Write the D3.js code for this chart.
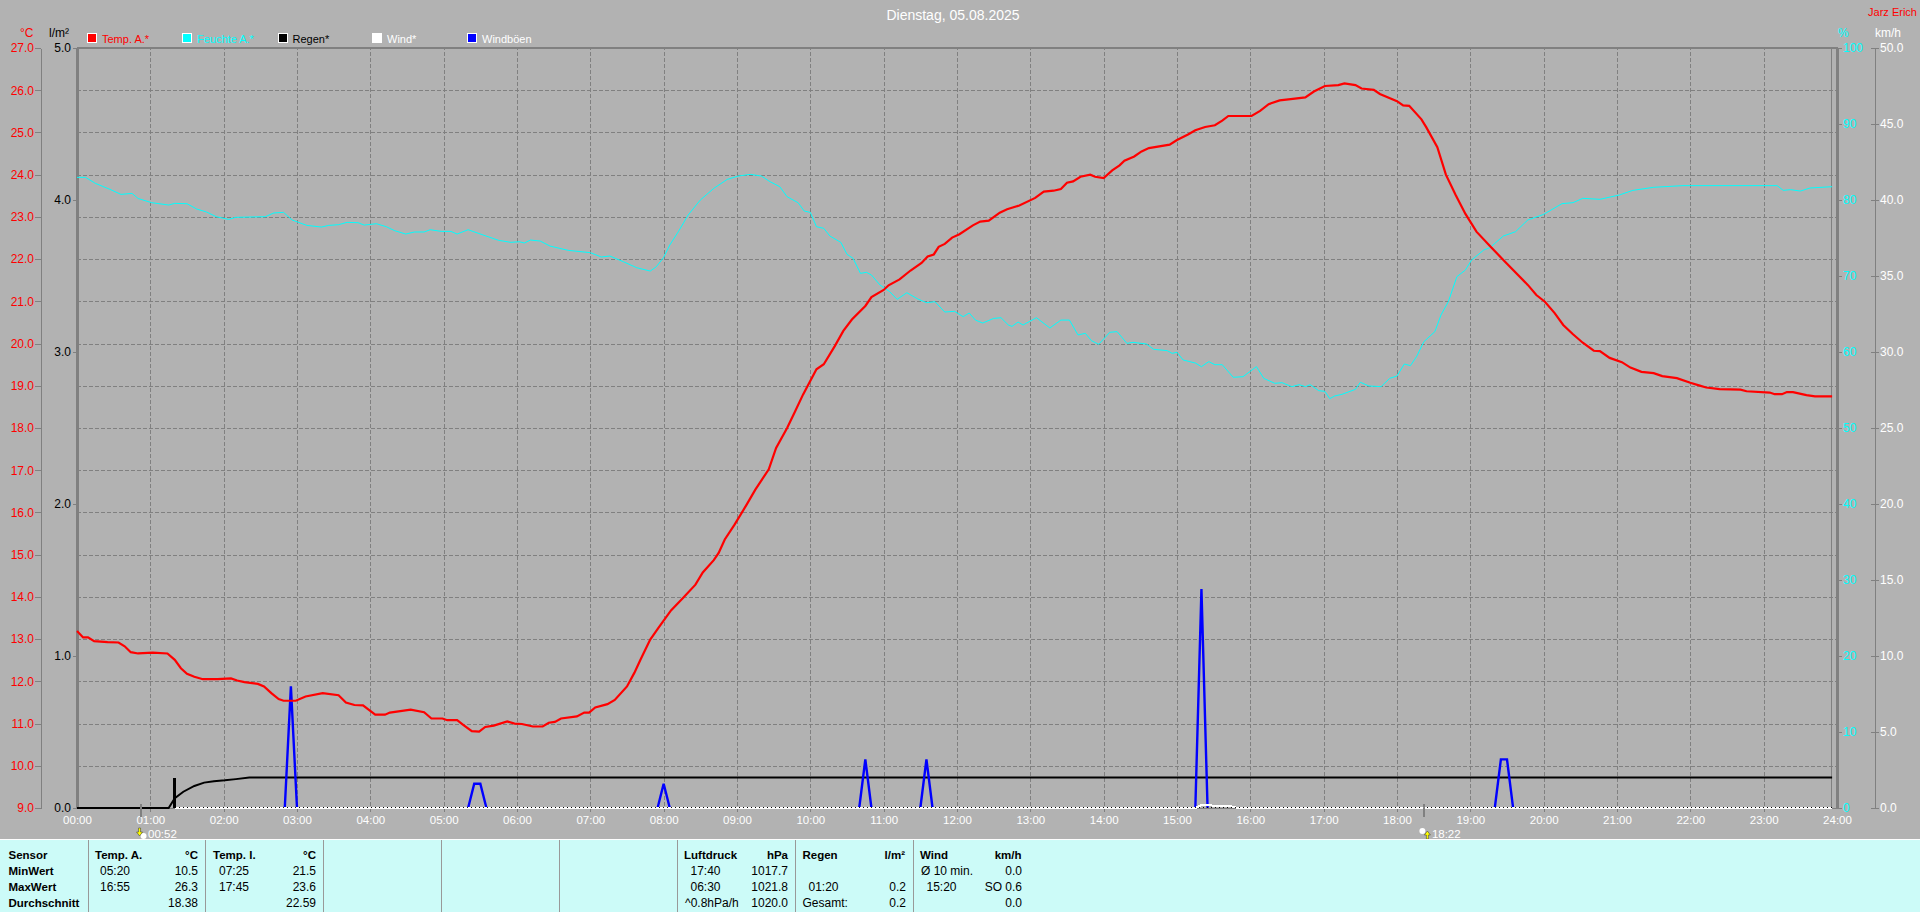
<!DOCTYPE html>
<html>
<head>
<meta charset="utf-8">
<script src="https://cdn.jsdelivr.net/npm/d3@7"></script>
<style>
html,body{margin:0;padding:0;background:#b2b2b2;overflow:hidden}
svg{display:block}
text{font-family:"Liberation Sans",Arial,sans-serif;font-size:11px}
.crisp{shape-rendering:crispEdges}
</style>
</head>
<body>
<svg id="c" width="1920" height="912"></svg>
<script>
// ---- data (time in minutes since midnight, value in the series' unit) ----
const chartTitle = "Dienstag, 05.08.2025";
const author = "Jarz Erich";
const legendLabels = ["Temp. A.*","Feuchte A.*","Regen*","Wind*","Windböen"];
const legendColors = ["#ff0000","#00ffff","#000000","#ffffff","#0000ff"];
const legendTextColors = ["#ff0000","#00ffff","#000000","#ffffff","#ffffff"];
const hourLabels = ["00:00","01:00","02:00","03:00","04:00","05:00","06:00","07:00","08:00","09:00","10:00","11:00","12:00","13:00","14:00","15:00","16:00","17:00","18:00","19:00","20:00","21:00","22:00","23:00","24:00"];
const tempTicks = [9,10,11,12,13,14,15,16,17,18,19,20,21,22,23,24,25,26,27];
const rainTicks = [0,1,2,3,4,5];
const humTicks = [0,10,20,30,40,50,60,70,80,90,100];
const windTicks = [0,5,10,15,20,25,30,35,40,45,50];

const temperature = [[0,13.19],[5,13.04],[9,13.04],[14,12.95],[25,12.93],[34,12.92],[39,12.83],[44,12.69],[50,12.66],[62,12.68],[74,12.66],[80,12.51],[85,12.31],[90,12.18],[96,12.11],[103,12.05],[115,12.05],[126,12.07],[131,12.02],[137,11.98],[148,11.94],[153,11.88],[159,11.72],[165,11.58],[169,11.54],[179,11.54],[187,11.64],[201,11.72],[214,11.67],[220,11.5],[227,11.44],[234,11.43],[244,11.21],[252,11.21],[256,11.26],[273,11.33],[284,11.27],[290,11.12],[299,11.12],[303,11.08],[311,11.08],[316,10.97],[323,10.82],[329,10.81],[334,10.92],[341,10.95],[352,11.05],[358,11],[364,10.99],[373,10.93],[381,10.93],[386,11.02],[391,11.04],[396,11.12],[409,11.17],[415,11.26],[419,11.26],[424,11.38],[434,11.46],[440,11.56],[450,11.88],[456,12.2],[461,12.51],[469,12.99],[476,13.28],[486,13.68],[496,13.98],[506,14.29],[512,14.58],[521,14.87],[525,15.04],[530,15.36],[538,15.71],[548,16.19],[555,16.54],[566,17.02],[572,17.53],[581,18],[587,18.36],[594,18.79],[605,19.39],[611,19.51],[620,19.94],[627,20.3],[634,20.57],[645,20.89],[650,21.1],[660,21.27],[664,21.38],[673,21.52],[682,21.73],[691,21.91],[696,22.06],[701,22.11],[705,22.29],[710,22.36],[716,22.51],[722,22.59],[733,22.8],[739,22.89],[746,22.91],[755,23.1],[761,23.18],[771,23.27],[784,23.45],[791,23.6],[799,23.62],[805,23.66],[810,23.81],[815,23.84],[821,23.95],[829,24],[833,23.95],[840,23.92],[847,24.1],[853,24.22],[857,24.33],[865,24.43],[871,24.55],[877,24.63],[894,24.71],[900,24.82],[909,24.95],[915,25.05],[923,25.13],[931,25.17],[937,25.28],[942,25.39],[961,25.39],[968,25.51],[975,25.67],[984,25.76],[993,25.79],[1005,25.83],[1012,25.97],[1021,26.1],[1032,26.12],[1037,26.16],[1046,26.12],[1051,26.04],[1061,26.01],[1066,25.91],[1080,25.74],[1085,25.64],[1090,25.63],[1100,25.31],[1104,25.12],[1113,24.65],[1120,24],[1128,23.52],[1136,23.07],[1145,22.65],[1157,22.28],[1167,21.98],[1187,21.39],[1194,21.15],[1201,20.99],[1209,20.72],[1216,20.44],[1224,20.22],[1232,20.02],[1241,19.83],[1246,19.82],[1254,19.66],[1264,19.56],[1271,19.43],[1280,19.33],[1290,19.3],[1297,19.23],[1309,19.18],[1320,19.07],[1327,19.01],[1333,18.96],[1344,18.92],[1361,18.91],[1366,18.87],[1385,18.84],[1389,18.8],[1395,18.8],[1399,18.85],[1404,18.85],[1415,18.78],[1422,18.75],[1436,18.75]];

const humidity = [[0,82.98],[7,82.98],[15,82.19],[27,81.4],[36,80.74],[45,80.87],[50,80.2],[61,79.65],[75,79.34],[80,79.56],[90,79.51],[98,78.81],[106,78.42],[114,77.8],[124,77.45],[130,77.72],[154,77.8],[161,78.29],[169,78.37],[176,77.37],[188,76.66],[200,76.44],[206,76.66],[214,76.75],[221,77.06],[230,77.01],[235,76.7],[245,76.88],[253,76.49],[260,75.96],[269,75.52],[276,75.79],[284,75.79],[289,76.09],[298,75.87],[306,75.87],[311,75.52],[320,76.09],[334,75.3],[345,74.69],[355,74.43],[362,74.51],[366,74.34],[371,74.73],[379,74.6],[387,73.94],[402,73.37],[420,73.07],[429,72.5],[436,72.63],[447,71.88],[458,71.09],[469,70.65],[474,71.22],[480,72.45],[485,74.07],[492,75.83],[500,78.02],[510,80],[521,81.53],[532,82.71],[541,83.15],[551,83.37],[560,83.15],[567,82.41],[575,81.75],[581,80.43],[590,79.64],[595,78.55],[600,78.37],[605,76.49],[611,76.27],[616,75.26],[625,74.42],[630,72.85],[635,72.32],[641,70.35],[646,70.48],[650,70.13],[657,68.81],[665,67.93],[671,66.93],[679,67.8],[688,66.97],[695,66.49],[702,66.62],[710,65.26],[718,65.35],[725,64.65],[730,65.13],[735,64.21],[741,63.81],[750,64.42],[756,64.51],[762,63.55],[765,63.37],[770,63.94],[774,63.55],[785,64.51],[796,63.16],[805,64.2],[812,64.2],[819,62.24],[825,62.46],[830,61.49],[836,61.01],[845,62.59],[851,62.68],[859,61.14],[864,61.27],[875,61.05],[881,60.35],[892,60.18],[896,59.82],[900,59.96],[905,58.95],[915,58.55],[920,58.07],[926,58.73],[931,58.33],[937,58.33],[946,56.67],[954,56.75],[965,58.07],[971,56.53],[980,55.88],[986,55.96],[994,55.44],[1000,55.7],[1005,55.44],[1009,55.7],[1016,54.91],[1021,54.82],[1025,53.86],[1029,54.21],[1035,54.43],[1046,55.09],[1050,56.01],[1057,55.53],[1067,55.44],[1074,56.53],[1080,56.84],[1086,58.42],[1091,58.2],[1096,59.39],[1102,61.36],[1111,62.68],[1116,64.87],[1122,66.62],[1129,69.91],[1136,70.79],[1141,72.1],[1151,73.42],[1156,73.73],[1167,75.26],[1177,75.83],[1187,77.37],[1200,78.11],[1215,79.52],[1224,79.65],[1232,80.22],[1246,80.09],[1262,80.66],[1273,81.27],[1290,81.67],[1314,81.89],[1391,81.89],[1396,81.27],[1402,81.36],[1410,81.18],[1418,81.58],[1436,81.75]];

const rainCurve = [[0,0],[75,0],[80,0.064],[87,0.107],[96,0.145],[104,0.167],[112,0.176],[121,0.182],[130,0.19],[141,0.2],[1436,0.2]];
const rainBar = [[80,0.2]];
const gustBursts = [
  [[170,0],[175,8],[180,0]],
  [[320,0],[325,1.6],[330,1.6],[335,0]],
  [[475,0],[480,1.6],[485,0]],
  [[640,0],[645,3.2],[650,0]],
  [[690,0],[695,3.2],[700,0]],
  [[915,0],[920,14.4],[925,0]],
  [[1160,0],[1165,3.2],[1170,3.2],[1175,0]]
];
const wind = [[80,0],[915,0],[920,0.2],[945,0.1],[950,0],[1436,0]];

const sunEvents = [{minute:52,label:"00:52"},{minute:1102,label:"18:22"}];

const tableRows = [
 {t:"Sensor",x:8.5,r:0,b:1},{t:"MinWert",x:8.5,r:1,b:1},{t:"MaxWert",x:8.5,r:2,b:1},{t:"Durchschnitt",x:8.5,r:3,b:1},
 {t:"Temp. A.",x:95,r:0,b:1},{t:"°C",x:198,r:0,b:1,e:1},{t:"05:20",x:100,r:1},{t:"10.5",x:198,r:1,e:1},{t:"16:55",x:100,r:2},{t:"26.3",x:198,r:2,e:1},{t:"18.38",x:198,r:3,e:1},
 {t:"Temp. I.",x:213,r:0,b:1},{t:"°C",x:316,r:0,b:1,e:1},{t:"07:25",x:219,r:1},{t:"21.5",x:316,r:1,e:1},{t:"17:45",x:219,r:2},{t:"23.6",x:316,r:2,e:1},{t:"22.59",x:316,r:3,e:1},
 {t:"Luftdruck",x:684,r:0,b:1},{t:"hPa",x:788,r:0,b:1,e:1},{t:"17:40",x:690.5,r:1},{t:"1017.7",x:788,r:1,e:1},{t:"06:30",x:690.5,r:2},{t:"1021.8",x:788,r:2,e:1},{t:"^0.8hPa/h",x:685,r:3},{t:"1020.0",x:788,r:3,e:1},
 {t:"Regen",x:802.5,r:0,b:1},{t:"l/m²",x:905,r:0,b:1,e:1},{t:"01:20",x:808.5,r:2},{t:"0.2",x:906,r:2,e:1},{t:"Gesamt:",x:802.5,r:3},{t:"0.2",x:906,r:3,e:1},
 {t:"Wind",x:920,r:0,b:1},{t:"km/h",x:1021.5,r:0,b:1,e:1},{t:"Ø 10 min.",x:921,r:1},{t:"0.0",x:1022,r:1,e:1},{t:"15:20",x:926.5,r:2},{t:"SO 0.6",x:1022,r:2,e:1},{t:"0.0",x:1022,r:3,e:1}
];
const tableDividers = [88,205,323,441,559,677,795,913.5];

// ---- layout ----
const svg = d3.select("#c");
const L=77,R=1837,T=48,B=808, GREY="#808080";
const x = d3.scaleLinear().domain([0,1440]).range([L,R]);
const yT = d3.scaleLinear().domain([9,27]).range([B,T]);
const yR = d3.scaleLinear().domain([0,5]).range([B,T]);
const yH = d3.scaleLinear().domain([0,100]).range([B,T]);
const yW = d3.scaleLinear().domain([0,50]).range([B,T]);

svg.append("rect").attr("width",1920).attr("height",912).attr("fill","#b2b2b2");

// grid
const gx = svg.append("g").attr("transform",`translate(0,${B+4})`).attr("class","crisp")
  .call(d3.axisBottom(x).tickValues(d3.range(60,1440,60)).tickSize(-(B+4-T)).tickFormat(""));
gx.select(".domain").remove();
gx.selectAll("line").attr("stroke",GREY).attr("stroke-dasharray","4 2");
const gy = svg.append("g").attr("transform",`translate(${L},0)`).attr("class","crisp")
  .call(d3.axisLeft(yT).tickValues(tempTicks.slice(1,-1)).tickSize(-(R-L)).tickFormat(""));
gy.select(".domain").remove();
gy.selectAll("line").attr("stroke",GREY).attr("stroke-dasharray","4 2");

// frame
const frame = svg.append("g").attr("class","crisp").attr("stroke",GREY);
frame.append("line").attr("x1",L).attr("x2",R+1).attr("y1",T).attr("y2",T).attr("stroke-width",2);
frame.append("line").attr("x1",L).attr("x2",L).attr("y1",T).attr("y2",B).attr("stroke-width",3);
frame.append("line").attr("x1",R).attr("x2",R).attr("y1",T).attr("y2",B+1).attr("stroke-width",3);
frame.append("line").attr("x1",1831.5).attr("x2",1831.5).attr("y1",T).attr("y2",B).attr("stroke-width",1);
frame.append("line").attr("x1",L).attr("x2",R).attr("y1",B).attr("y2",B).attr("stroke-width",1);

// axes
function styleAxis(g,color){
  g.selectAll("line,path").attr("stroke",GREY).attr("class","crisp");
  g.selectAll("text").attr("fill",color).style("font-size","12px");
}
const fmt1 = d3.format(".1f");
svg.append("g").attr("transform","translate(41,0)")
  .call(d3.axisLeft(yT).tickValues(tempTicks).tickFormat(fmt1).tickSize(6).tickSizeOuter(0).tickPadding(1))
  .call(styleAxis,"#ff0000");
svg.append("g").attr("transform",`translate(${L},0)`)
  .call(d3.axisLeft(yR).tickValues(rainTicks.slice(0)).tickFormat(fmt1).tickSize(4).tickSizeOuter(0).tickPadding(2))
  .call(g=>g.select(".domain").remove()).call(styleAxis,"#000000");
svg.append("g").attr("transform",`translate(${R},0)`)
  .call(d3.axisRight(yH).tickValues(humTicks).tickSize(5).tickSizeOuter(0).tickPadding(1))
  .call(g=>g.select(".domain").remove()).call(styleAxis,"#00ffff");
svg.append("g").attr("transform","translate(1875,0)")
  .call(d3.axisRight(yW).tickValues(windTicks).tickFormat(fmt1).tickSize(4).tickSizeOuter(0).tickPadding(1))
  .call(g=>g.selectAll(".tick line").attr("x1",-4))
  .call(styleAxis,"#ffffff");
const xa = svg.append("g").attr("transform",`translate(0,${B})`)
  .call(d3.axisBottom(x).tickValues(d3.range(0,1441,60)).tickFormat((d,i)=>hourLabels[i]).tickSize(0).tickPadding(8));
xa.select(".domain").remove();
xa.selectAll("text").attr("fill","#fff").style("font-size","11.5px");

// series
const line = (yS)=>d3.line().x(d=>x(d[0])).y(d=>yS(d[1]));
const plot = svg.append("g").attr("fill","none");
plot.append("path").datum(rainCurve).attr("d",line(yR)).attr("stroke","#000").attr("stroke-width",2);
plot.selectAll(".rb").data(rainBar).join("line").attr("class","crisp")
  .attr("x1",d=>x(d[0])).attr("x2",d=>x(d[0])).attr("y1",d=>yR(d[1])).attr("y2",B).attr("stroke","#000").attr("stroke-width",3);
plot.selectAll(".gust").data(gustBursts).join("path").attr("d",line(yW)).attr("stroke","#0000ff").attr("stroke-width",2.4);
plot.append("path").datum(wind).attr("d",line(yW)).attr("stroke","#fff").attr("stroke-width",2).attr("class","crisp");
plot.append("line").attr("x1",x(80)).attr("x2",x(1436)).attr("y1",B-1).attr("y2",B-1).attr("class","crisp")
  .attr("stroke","#000").attr("stroke-width",1).attr("stroke-dasharray","1 3");
plot.append("path").datum(humidity).attr("d",line(yH)).attr("stroke","#00ffff").attr("stroke-width",1);
plot.append("path").datum(temperature).attr("d",line(yT)).attr("stroke","#ff0000").attr("stroke-width",2.2);

// header text
svg.append("text").attr("x",953).attr("y",20).attr("text-anchor","middle").attr("fill","#ffffff").style("font-size","14px").text(chartTitle);
svg.append("text").attr("x",1917).attr("y",16).attr("text-anchor","end").attr("fill","#ff0000").style("font-size","11px").text(author);
svg.append("text").attr("x",20).attr("y",37).attr("fill","#ff0000").style("font-size","12px").text("°C");
svg.append("text").attr("x",49).attr("y",37).attr("fill","#000").style("font-size","12px").text("l/m²");
svg.append("text").attr("x",1838).attr("y",37).attr("fill","#00ffff").style("font-size","12px").text("%");
svg.append("text").attr("x",1875).attr("y",37).attr("fill","#fff").style("font-size","12px").text("km/h");

// legend
const legX=[87,182,277.5,372,467];
const leg = svg.selectAll(".leg").data(legendLabels).join("g").attr("transform",(d,i)=>`translate(${legX[i]},33)`);
leg.append("rect").attr("class","crisp").attr("x",.5).attr("y",.5).attr("width",9).attr("height",9)
  .attr("fill",(d,i)=>legendColors[i]).attr("stroke","#fff");
leg.append("text").attr("x",15).attr("y",9.5).attr("fill",(d,i)=>legendTextColors[i]).style("font-size","11px").text(d=>d);

// sunrise / sunset
const sun = svg.selectAll(".sun").data(sunEvents).join("g");
sun.append("line").attr("class","crisp").attr("x1",d=>x(d.minute)).attr("x2",d=>x(d.minute)).attr("y1",804).attr("y2",817).attr("stroke",GREY).attr("stroke-width",2);
sun.append("text").attr("x",d=>x(d.minute)+(d.minute<720?7.5:8)).attr("y",838).attr("fill","#fff").style("font-size","11.5px").text(d=>d.label);
sun.append("circle").attr("cx",d=>x(d.minute)+(d.minute<720?3:-1.5)).attr("cy",d=>d.minute<720?836:831).attr("r",3).attr("fill","#fff");
sun.append("path").attr("transform",d=>`translate(${x(d.minute)+(d.minute<720?-1:3.5)},${d.minute<720?832:835})${d.minute<720?" rotate(180)":""}`)
  .attr("d","M0,-4L3,0L1,0L1,4L-1,4L-1,0L-3,0Z").attr("fill","#ffff00").attr("stroke","#333").attr("stroke-width",.5);

// table
svg.append("rect").attr("x",0).attr("y",839).attr("width",1920).attr("height",73).attr("fill","#ccfbf8");
svg.append("line").attr("class","crisp").attr("x1",0).attr("x2",1920).attr("y1",839.5).attr("y2",839.5).attr("stroke","#fff");
svg.selectAll(".div").data(tableDividers).join("line").attr("class","crisp")
  .attr("x1",d=>d).attr("x2",d=>d).attr("y1",840).attr("y2",912).attr("stroke","#999");
svg.selectAll(".cell").data(tableRows).join("text")
  .attr("x",d=>d.x).attr("y",d=>858.5+d.r*16)
  .attr("text-anchor",d=>d.e?"end":"start")
  .attr("fill","#000").style("font-weight",d=>d.b?"700":"400").style("font-size",d=>d.b?"11.5px":"12px").text(d=>d.t);
</script>
</body>
</html>
